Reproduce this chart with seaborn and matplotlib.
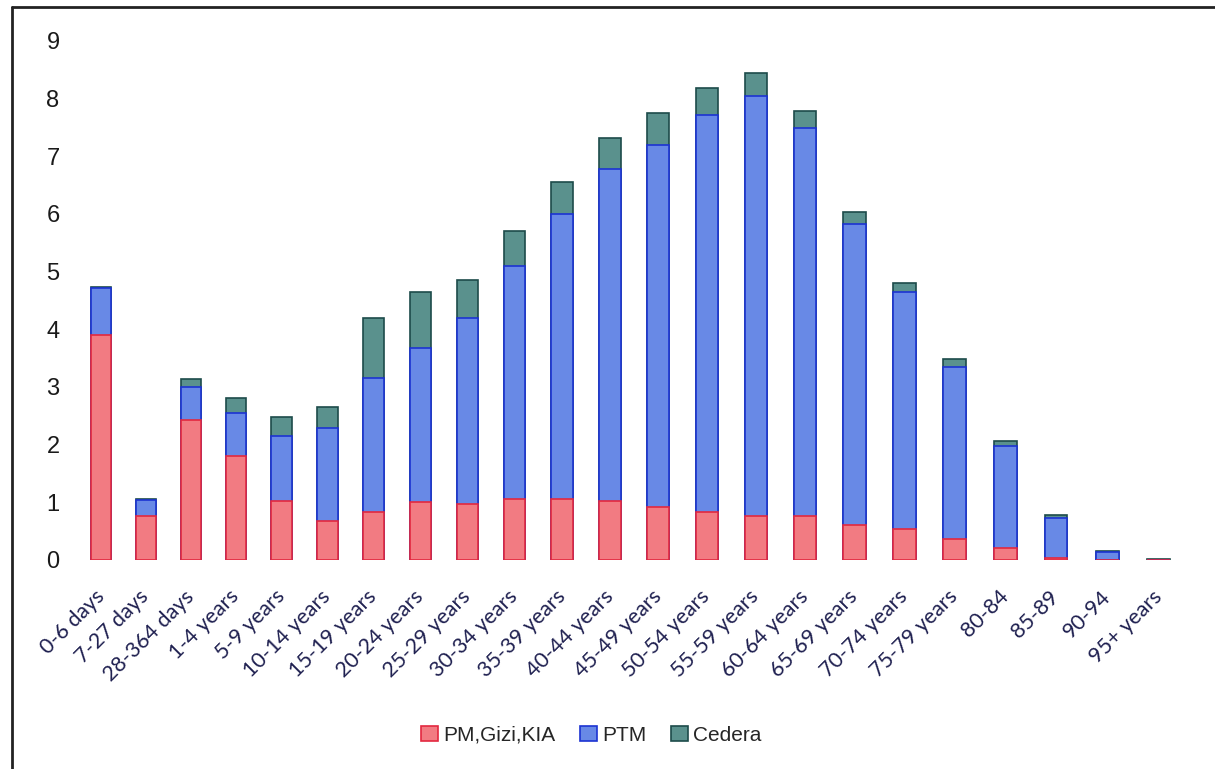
import numpy as np
import pandas as pd
import matplotlib
matplotlib.use("Agg")
import matplotlib.pyplot as plt
from matplotlib.lines import Line2D
from matplotlib.patches import Patch
from matplotlib.transforms import ScaledTranslation
import seaborn as sns

# Age groups and the three cause groups stacked in each bar
age_groups = [
    "0-6 days", "7-27 days", "28-364 days", "1-4 years", "5-9 years",
    "10-14 years", "15-19 years", "20-24 years", "25-29 years", "30-34 years",
    "35-39 years", "40-44 years", "45-49 years", "50-54 years", "55-59 years",
    "60-64 years", "65-69 years", "70-74 years", "75-79 years", "80-84",
    "85-89", "90-94", "95+ years",
]
pm_gizi_kia = [3.90, 0.77, 2.43, 1.80, 1.02, 0.68, 0.84, 1.00, 0.97, 1.05,
               1.05, 1.02, 0.92, 0.84, 0.76, 0.76, 0.61, 0.53, 0.36, 0.21,
               0.04, 0.00, 0.00]
ptm = [0.81, 0.27, 0.56, 0.75, 1.13, 1.60, 2.32, 2.68, 3.22, 4.05,
       4.95, 5.75, 6.28, 6.88, 7.29, 6.73, 5.22, 4.11, 2.98, 1.77,
       0.68, 0.14, 0.00]
cedera = [0.03, 0.01, 0.15, 0.26, 0.33, 0.38, 1.03, 0.97, 0.67, 0.60,
          0.56, 0.54, 0.55, 0.46, 0.39, 0.30, 0.21, 0.16, 0.15, 0.09,
          0.06, 0.01, 0.01]

series_names = ["PM,Gizi,KIA", "PTM", "Cedera"]
fills = ["#F27B82", "#6889E6", "#5A918D"]
edges = ["#E3283F", "#1C33D2", "#1D4B4A"]

df = pd.DataFrame({
    "age": age_groups,
    "PM,Gizi,KIA": pm_gizi_kia,
    "PTM": ptm,
    "Cedera": cedera,
})
# Cumulative heights so each layer sits on top of the previous one
df["lvl1"] = df["PM,Gizi,KIA"]
df["lvl2"] = df["lvl1"] + df["PTM"]
df["lvl3"] = df["lvl2"] + df["Cedera"]

sns.set_theme(style="white")
plt.rcParams["font.family"] = ["Liberation Sans", "DejaVu Sans"]

fig = plt.figure(figsize=(12.15, 7.69), dpi=100)
ax = fig.add_axes([0.0650, 0.2718, 0.9100, 0.6752])

# Draw tallest layer first, then cover it with the lower stacks
for col, fc, ec in zip(["lvl3", "lvl2", "lvl1"], fills[::-1], edges[::-1]):
    sns.barplot(data=df, x="age", y=col, color=fc, saturation=1,
                width=0.45, edgecolor=ec, linewidth=1.2, ax=ax, zorder=2)

# Category spacing widens gently from left to right
K = 0.00371


def _fwd(d):
    d = np.asarray(d, dtype=float)
    return d + K * d * d


def _inv(y):
    y = np.asarray(y, dtype=float)
    return (-1.0 + np.sqrt(np.maximum(1.0 + 4.0 * K * y, 0.0))) / (2.0 * K)


ax.set_xscale("function", functions=(_fwd, _inv))
ax.set_xticks(range(len(age_groups)))
ax.set_xticklabels(age_groups)
ax.set_xlim(-0.5, len(age_groups) - 0.5)

ax.set_ylim(0, 9)
ax.set_yticks(range(0, 10))
ax.set_yticklabels([str(v) for v in range(0, 10)], fontsize=17, color="#1a1a1a")
ax.set_xlabel("")
ax.set_ylabel("")
ax.tick_params(axis="y", length=0, pad=14)
ax.tick_params(axis="x", length=0, pad=19)

shift = ScaledTranslation(-0.07, 0, fig.dpi_scale_trans)
for lbl in ax.get_xticklabels():
    lbl.set_rotation(45)
    lbl.set_ha("right")
    lbl.set_rotation_mode("anchor")
    lbl.set_fontsize(15.5)
    lbl.set_family(["Lato", "DejaVu Sans"])
    lbl.set_color("#1f2050")
    lbl.set_transform(lbl.get_transform() + shift)
for s in ax.spines.values():
    s.set_visible(False)
ax.grid(False)

handles = [Patch(facecolor=f, edgecolor=e, linewidth=1.2) for f, e in zip(fills, edges)]
fig.legend(handles, series_names, loc="center", bbox_to_anchor=(0.4868, 0.044),
           ncol=3, frameon=False, fontsize=15, handlelength=0.8, handleheight=0.8,
           handletextpad=0.25, columnspacing=1.2)

# Outer chart frame
fig.add_artist(Line2D([0.010, 1.0], [0.991, 0.991], color="#222222", lw=2,
                      transform=fig.transFigure))
fig.add_artist(Line2D([0.010, 0.010], [0.0, 0.991], color="#222222", lw=2,
                      transform=fig.transFigure))

fig.savefig("out.png", dpi=100, facecolor="white")
